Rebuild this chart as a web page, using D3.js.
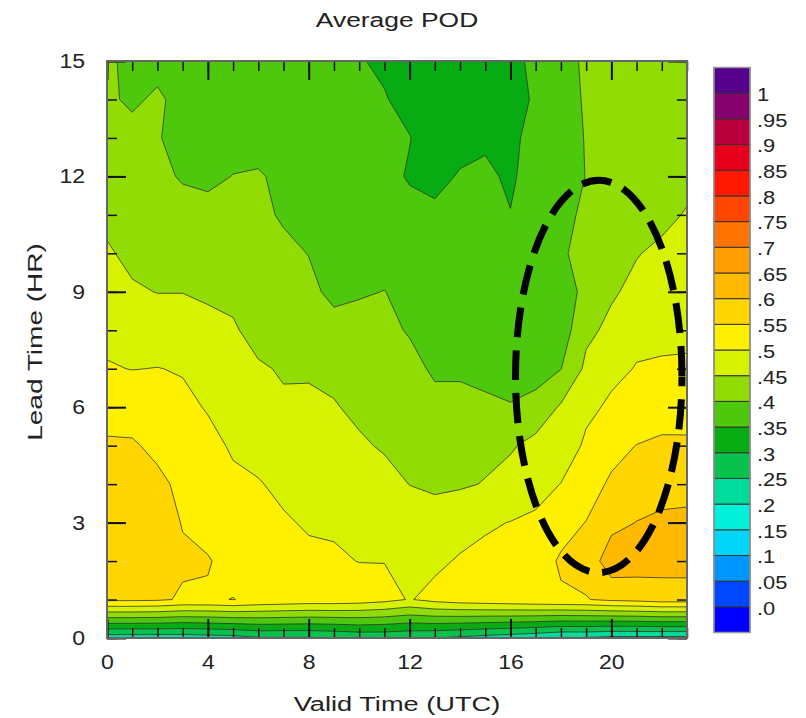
<!DOCTYPE html>
<html lang="en">
<head>
<meta charset="utf-8">
<style>
    body { margin: 0; background: #fff; }
    text { font-family: "Liberation Sans", Arial, sans-serif; fill: #222; }
</style>
<script src="https://d3js.org/d3.v7.min.js"></script>
</head>
<body>
<script>
    var width = 806, height = 718;

    // valid time (UTC) on x, lead time (HR) on y
    var validHours = [0, 1, 2, 3, 4, 5, 6, 7, 8, 9, 10, 11, 12, 13, 14, 15, 16, 17, 18, 19, 20, 21, 22, 23];
    var leadTimes = [0, 1, 2, 3, 4, 5, 6, 7, 8, 9, 10, 11, 12, 13, 14, 15];

    // average POD, one row per lead time, one value per valid hour
    var pod = [
        [0.22, 0.22, 0.22, 0.22, 0.225, 0.23, 0.245, 0.245, 0.245, 0.25, 0.26, 0.26, 0.255, 0.25, 0.24, 0.23, 0.22, 0.21, 0.195, 0.195, 0.185, 0.185, 0.185, 0.185],
        [0.56, 0.56, 0.557, 0.545, 0.545, 0.551, 0.54, 0.535, 0.53, 0.53, 0.525, 0.515, 0.497, 0.515, 0.525, 0.53, 0.535, 0.54, 0.545, 0.548, 0.56, 0.565, 0.574, 0.574],
        [0.58, 0.58, 0.575, 0.556, 0.553, 0.535, 0.525, 0.52, 0.51, 0.506, 0.499, 0.499, 0.49, 0.49, 0.505, 0.51, 0.52, 0.53, 0.555, 0.565, 0.63, 0.625, 0.62, 0.62],
        [0.585, 0.58, 0.57, 0.548, 0.535, 0.52, 0.515, 0.505, 0.495, 0.494, 0.49, 0.485, 0.48, 0.458, 0.48, 0.495, 0.501, 0.51, 0.535, 0.551, 0.585, 0.601, 0.61, 0.615],
        [0.575, 0.57, 0.56, 0.54, 0.525, 0.508, 0.503, 0.49, 0.485, 0.48, 0.475, 0.47, 0.449, 0.447, 0.445, 0.452, 0.47, 0.48, 0.501, 0.53, 0.557, 0.575, 0.58, 0.578],
        [0.555, 0.555, 0.54, 0.53, 0.512, 0.495, 0.485, 0.475, 0.475, 0.47, 0.458, 0.444, 0.44, 0.435, 0.435, 0.44, 0.444, 0.466, 0.47, 0.508, 0.535, 0.551, 0.556, 0.555],
        [0.535, 0.53, 0.52, 0.51, 0.497, 0.48, 0.47, 0.456, 0.46, 0.454, 0.438, 0.43, 0.43, 0.42, 0.42, 0.41, 0.403, 0.415, 0.456, 0.49, 0.507, 0.52, 0.535, 0.537],
        [0.503, 0.499, 0.501, 0.497, 0.48, 0.47, 0.455, 0.446, 0.444, 0.436, 0.43, 0.42, 0.42, 0.39, 0.39, 0.385, 0.38, 0.382, 0.399, 0.46, 0.49, 0.502, 0.505, 0.51],
        [0.49, 0.48, 0.475, 0.475, 0.46, 0.455, 0.435, 0.43, 0.43, 0.415, 0.42, 0.415, 0.395, 0.38, 0.38, 0.375, 0.375, 0.375, 0.373, 0.44, 0.46, 0.49, 0.49, 0.485],
        [0.47, 0.455, 0.449, 0.449, 0.445, 0.44, 0.43, 0.42, 0.41, 0.39, 0.395, 0.401, 0.385, 0.37, 0.37, 0.37, 0.37, 0.37, 0.372, 0.415, 0.445, 0.46, 0.475, 0.474],
        [0.455, 0.44, 0.435, 0.44, 0.43, 0.43, 0.42, 0.41, 0.399, 0.38, 0.38, 0.38, 0.375, 0.36, 0.365, 0.365, 0.365, 0.37, 0.396, 0.41, 0.435, 0.448, 0.458, 0.463],
        [0.44, 0.43, 0.42, 0.416, 0.415, 0.42, 0.41, 0.395, 0.385, 0.37, 0.37, 0.37, 0.36, 0.355, 0.36, 0.36, 0.351, 0.368, 0.385, 0.41, 0.43, 0.44, 0.44, 0.453],
        [0.43, 0.42, 0.41, 0.396, 0.39, 0.401, 0.405, 0.388, 0.375, 0.365, 0.365, 0.36, 0.347, 0.343, 0.352, 0.356, 0.345, 0.365, 0.381, 0.401, 0.425, 0.435, 0.435, 0.44],
        [0.42, 0.41, 0.402, 0.39, 0.385, 0.385, 0.38, 0.38, 0.37, 0.36, 0.36, 0.355, 0.351, 0.335, 0.342, 0.345, 0.34, 0.365, 0.364, 0.404, 0.42, 0.43, 0.43, 0.432],
        [0.405, 0.395, 0.405, 0.39, 0.38, 0.375, 0.37, 0.37, 0.365, 0.358, 0.355, 0.352, 0.34, 0.33, 0.335, 0.34, 0.335, 0.355, 0.376, 0.406, 0.42, 0.425, 0.425, 0.425],
        [0.41, 0.385, 0.39, 0.385, 0.375, 0.37, 0.365, 0.365, 0.36, 0.355, 0.352, 0.345, 0.335, 0.328, 0.33, 0.335, 0.335, 0.362, 0.377, 0.41, 0.415, 0.42, 0.42, 0.42]
    ];

    // contour levels and the colour of each band (first = below .0, last = above 1)
    var levels = [0, 0.05, 0.1, 0.15, 0.2, 0.25, 0.3, 0.35, 0.4, 0.45, 0.5, 0.55, 0.6, 0.65, 0.7, 0.75, 0.8, 0.85, 0.9, 0.95, 1];
    var levelLabels = [".0", ".05", ".1", ".15", ".2", ".25", ".3", ".35", ".4", ".45", ".5", ".55", ".6", ".65", ".7", ".75", ".8", ".85", ".9", ".95", "1"];
    var bandColors = ["#0000ff", "#0048ff", "#0096ff", "#00d6f8", "#00f0da", "#00dc9c", "#08c24e", "#06ac12",
                      "#4ec80c", "#90dc04", "#d6f200", "#fff000", "#ffd600", "#ffba00", "#ffa000", "#ff7400",
                      "#ff4600", "#ff1800", "#e6001c", "#ba003c", "#86006e", "#56008c"];

    var xTicks = [0, 4, 8, 12, 16, 20];
    var yTicks = [0, 3, 6, 9, 12, 15];

    // highlighted area (dashed ellipse), in valid hour / lead time units
    var mark = {hour: 19.5, lead: 6.8, rHour: 3.3, rLead: 5.1};

    var pLeft = 107, pRight = 687, pTop = 61, pBottom = 638;

    var svg = d3.select("body").append("svg")
        .attr("width", width)
        .attr("height", height);

    var x = d3.scaleLinear().domain([0, 23]).range([pLeft, pRight]);
    var y = d3.scaleLinear().domain([0, 15]).range([pBottom, pTop]);

    // flatten grid row by row for d3.contours
    var nx = validHours.length, ny = leadTimes.length;
    var grid = [];
    for (var j = 0; j < ny; j++) {
        for (var i = 0; i < nx; i++) grid.push(pod[j][i]);
    }

    var contours = d3.contours().size([nx, ny]).thresholds(levels)(grid);

    // grid sample i sits at contour coordinate i + 0.5
    var toPlot = d3.geoTransform({
        point: function(px, py) {
            this.stream.point(x(px - 0.5), y(py - 0.5));
        }
    });
    var path = d3.geoPath(toPlot);

    svg.append("clipPath").attr("id", "plotclip")
        .append("rect")
        .attr("x", pLeft).attr("y", pTop)
        .attr("width", pRight - pLeft).attr("height", pBottom - pTop);

    var plot = svg.append("g").attr("clip-path", "url(#plotclip)");

    plot.append("rect")
        .attr("x", pLeft).attr("y", pTop)
        .attr("width", pRight - pLeft).attr("height", pBottom - pTop)
        .attr("fill", bandColors[0]);

    plot.selectAll("path.band")
        .data(contours)
        .enter().append("path")
        .attr("class", "band")
        .attr("d", path)
        .attr("fill", function(d, k) { return bandColors[k + 1]; })
        .attr("stroke", "#333")
        .attr("stroke-opacity", 0.8)
        .attr("stroke-width", 1)
        .attr("stroke-linejoin", "round");

    // stretch text a little sideways, like the original
    function widen(sel, k) {
        sel.each(function() {
            var w = this.getComputedTextLength();
            d3.select(this).attr("textLength", w * k).attr("lengthAdjust", "spacingAndGlyphs");
        });
    }

    // axes: major ticks with labels, minor ticks every hour, all pointing inward
    var xMajor = d3.axisBottom(x).tickValues(xTicks).tickSize(-19).tickPadding(17).tickFormat(d3.format("d"));
    var xMinor = d3.axisBottom(x).tickValues(validHours).tickSize(-10).tickFormat("");
    var yMajor = d3.axisLeft(y).tickValues(yTicks).tickSize(-19).tickPadding(22).tickFormat(d3.format("d"));
    var yMinor = d3.axisLeft(y).tickValues(leadTimes).tickSize(-10).tickFormat("");

    function styleAxis(g, w) {
        g.select(".domain").remove();
        g.selectAll(".tick line").attr("stroke", "#111").attr("stroke-width", w);
        g.selectAll(".tick text").attr("font-size", 20).attr("fill", "#222");
    }

    svg.append("g").attr("transform", "translate(0," + pBottom + ")").call(xMinor).call(styleAxis, 1.5);
    var gx = svg.append("g").attr("transform", "translate(0," + pBottom + ")").call(xMajor).call(styleAxis, 2);
    svg.append("g").attr("transform", "translate(0," + pTop + ")")
        .call(d3.axisTop(x).tickValues(validHours).tickSize(-10).tickFormat("")).call(styleAxis, 1.5);
    svg.append("g").attr("transform", "translate(0," + pTop + ")")
        .call(d3.axisTop(x).tickValues(xTicks).tickSize(-19).tickFormat("")).call(styleAxis, 2);

    svg.append("g").attr("transform", "translate(" + pLeft + ",0)").call(yMinor).call(styleAxis, 1.5);
    var gy = svg.append("g").attr("transform", "translate(" + pLeft + ",0)").call(yMajor).call(styleAxis, 2);
    svg.append("g").attr("transform", "translate(" + pRight + ",0)")
        .call(d3.axisRight(y).tickValues(leadTimes).tickSize(-10).tickFormat("")).call(styleAxis, 1.5);
    svg.append("g").attr("transform", "translate(" + pRight + ",0)")
        .call(d3.axisRight(y).tickValues(yTicks).tickSize(-19).tickFormat("")).call(styleAxis, 2);

    widen(gx.selectAll(".tick text"), 1.15);
    widen(gy.selectAll(".tick text"), 1.15);

    svg.append("rect")
        .attr("x", pLeft).attr("y", pTop)
        .attr("width", pRight - pLeft).attr("height", pBottom - pTop)
        .attr("fill", "none")
        .attr("stroke", "#666")
        .attr("stroke-width", 2);

    // dashed ellipse around the afternoon maximum
    var ecx = x(mark.hour), ecy = y(mark.lead);
    var erx = x(mark.hour + mark.rHour) - ecx, ery = ecy - y(mark.lead + mark.rLead);
    svg.append("ellipse")
        .attr("cx", ecx).attr("cy", ecy)
        .attr("rx", erx).attr("ry", ery)
        .attr("fill", "none")
        .attr("stroke", "#000")
        .attr("stroke-width", 7)
        .attr("stroke-dasharray", "30,13")
        .attr("stroke-dashoffset", 20);

    // titles
    var title = svg.append("text")
        .attr("x", 397).attr("y", 27)
        .attr("text-anchor", "middle")
        .attr("font-size", 20)
        .text("Average POD");
    widen(title, 1.32);

    var xl = svg.append("text")
        .attr("x", 397).attr("y", 711)
        .attr("text-anchor", "middle")
        .attr("font-size", 20)
        .text("Valid Time (UTC)");
    widen(xl, 1.36);

    var yl = svg.append("text")
        .attr("transform", "translate(42,342) rotate(-90)")
        .attr("text-anchor", "middle")
        .attr("font-size", 20)
        .text("Lead Time (HR)");
    widen(yl, 1.4);

    // colour bar
    var cbX = 714, cbW = 36, cbTop = 67.5, cbBottom = 632.5;
    var nBands = bandColors.length;
    var cbH = (cbBottom - cbTop) / nBands;
    var cb = svg.append("g");

    cb.selectAll("rect.box")
        .data(bandColors)
        .enter().append("rect")
        .attr("class", "box")
        .attr("x", cbX)
        .attr("y", function(d, k) { return cbTop + (nBands - 1 - k) * cbH; })
        .attr("width", cbW)
        .attr("height", cbH)
        .attr("fill", function(d) { return d; })
        .attr("stroke", "#333")
        .attr("stroke-width", 1);

    cb.append("rect")
        .attr("x", cbX).attr("y", cbTop)
        .attr("width", cbW).attr("height", cbBottom - cbTop)
        .attr("fill", "none")
        .attr("stroke", "#999")
        .attr("stroke-width", 1.5);

    var cbLabels = cb.selectAll("text.lab")
        .data(levelLabels)
        .enter().append("text")
        .attr("class", "lab")
        .attr("x", 757)
        .attr("y", function(d, k) { return cbTop + (nBands - 1 - k) * cbH + 1; })
        .attr("dy", "0.36em")
        .attr("font-size", 19)
        .text(function(d) { return d; });
    widen(cbLabels, 1.15);
</script>
</body>
</html>
